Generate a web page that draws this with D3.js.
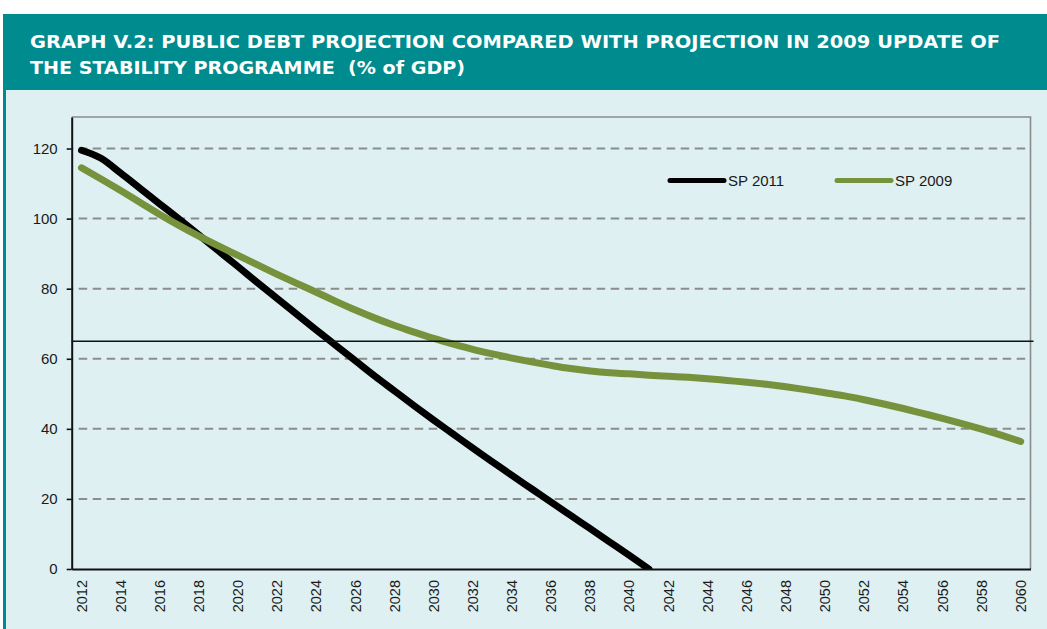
<!DOCTYPE html>
<html>
<head>
<meta charset="utf-8">
<script src="https://cdn.jsdelivr.net/npm/d3@7"></script>
<style>
  html, body { margin: 0; padding: 0; background: #ffffff; }
  svg { display: block; }
  .title { font-family: "DejaVu Sans", "Liberation Sans", sans-serif; font-weight: bold; fill: #ffffff; white-space: pre; }
  .axis text, .legend text { font-family: "Liberation Sans", Arial, sans-serif; fill: #1a1a1a; }
</style>
</head>
<body>
<svg id="chart" width="1047" height="629"></svg>
<script>
// Projection years (category axis)
const years = [
  2012, 2013, 2014, 2015, 2016, 2017, 2018, 2019, 2020, 2021,
  2022, 2023, 2024, 2025, 2026, 2027, 2028, 2029, 2030, 2031,
  2032, 2033, 2034, 2035, 2036, 2037, 2038, 2039, 2040, 2041,
  2042, 2043, 2044, 2045, 2046, 2047, 2048, 2049, 2050, 2051,
  2052, 2053, 2054, 2055, 2056, 2057, 2058, 2059, 2060
];

// Public debt, % of GDP — Stability Programme 2011 (2012–2041)
const sp2011 = [
  119.5, 117.2, 113.0, 108.6, 104.2, 99.8, 95.3, 90.8, 86.3, 81.7,
  77.2, 72.7, 68.2, 63.8, 59.4, 55.0, 50.8, 46.6, 42.5, 38.5,
  34.5, 30.6, 26.7, 22.9, 19.1, 15.3, 11.5, 7.7, 3.9, 0.0
];

// Public debt, % of GDP — Stability Programme 2009 update (2012–2060)
const sp2009 = [
  114.5, 111.3, 108.0, 104.6, 101.2, 98.0, 95.0, 92.2, 89.5, 86.8,
  84.1, 81.5, 79.0, 76.4, 73.9, 71.6, 69.5, 67.6, 65.8, 64.2,
  62.7, 61.4, 60.2, 59.1, 58.1, 57.2, 56.5, 56.0, 55.7, 55.3,
  55.0, 54.7, 54.3, 53.8, 53.3, 52.7, 52.0, 51.2, 50.3, 49.4,
  48.3, 47.1, 45.8, 44.4, 43.0, 41.5, 39.9, 38.2, 36.4
];

const yTicks = [0, 20, 40, 60, 80, 100, 120];
const yMax = 129;
const xTickYears = years.filter(d => d % 2 === 0);
const referenceLevel = 65;
const seriesNames = ["SP 2011", "SP 2009"];
const titleLines = [
  "GRAPH V.2: PUBLIC DEBT PROJECTION COMPARED WITH PROJECTION IN 2009 UPDATE OF",
  "THE STABILITY PROGRAMME  (% of GDP)"
];

const W = 1047, H = 629;
const plot = { left: 71.7, right: 1030.5, top: 117, bottom: 569 };
const colors = { sp2011: "#000000", sp2009: "#76923c", teal: "#008b8e", panel: "#def0f2" };

const svg = d3.select("#chart");

// Panel: teal header band, light body, teal left rule
svg.append("rect").attr("x", 3).attr("y", 14).attr("width", W - 3).attr("height", H - 14).attr("fill", colors.teal);
svg.append("rect").attr("x", 6).attr("y", 90).attr("width", W - 6).attr("height", H - 90).attr("fill", colors.panel);

// Title
const titleLengths = [970, 435];
const titleBaselines = [48, 74];
svg.selectAll("text.title")
  .data(titleLines)
  .join("text")
  .attr("class", "title")
  .attr("x", 30)
  .attr("y", (d, i) => titleBaselines[i])
  .attr("font-size", 18.5)
  .attr("textLength", (d, i) => titleLengths[i])
  .attr("lengthAdjust", "spacingAndGlyphs")
  .text(d => d);

// Scales
const x = d3.scaleBand().domain(years).range([plot.left, plot.right]).padding(0);
const cx = d => x(d) + x.bandwidth() / 2;
const y = d3.scaleLinear().domain([0, yMax]).range([plot.bottom, plot.top]);

// Plot frame (top and right edges)
svg.append("path")
  .attr("d", `M${plot.left},${y(yMax)}H${plot.right}V${y(0)}`)
  .attr("fill", "none")
  .attr("stroke", "#8a8a8a")
  .attr("stroke-width", 1.6);

// Dashed gridlines
svg.append("g")
  .selectAll("line")
  .data(yTicks.filter(d => d > 0))
  .join("line")
  .attr("x1", plot.left + 1)
  .attr("x2", plot.right - 1)
  .attr("y1", d => y(d))
  .attr("y2", d => y(d))
  .attr("stroke", "#8c8c8c")
  .attr("stroke-width", 2)
  .attr("stroke-dasharray", "8.5,5.5")
  .attr("stroke-dashoffset", -6);

// Clip the series to the plot area
svg.append("clipPath").attr("id", "plot-clip")
  .append("rect")
  .attr("x", plot.left).attr("y", plot.top - 10)
  .attr("width", plot.right - plot.left).attr("height", plot.bottom - plot.top + 10);

const line = d3.line()
  .x(d => cx(d.year))
  .y(d => y(d.value))
  .curve(d3.curveMonotoneX);

const series2011 = sp2011.map((v, i) => ({ year: years[i], value: v }));
const series2009 = sp2009.map((v, i) => ({ year: years[i], value: v }));

const lines = svg.append("g").attr("clip-path", "url(#plot-clip)");
lines.append("path")
  .datum(series2011)
  .attr("d", line)
  .attr("fill", "none")
  .attr("stroke", colors.sp2011)
  .attr("stroke-width", 7)
  .attr("stroke-linecap", "round")
  .attr("stroke-linejoin", "round");
lines.append("path")
  .datum(series2009)
  .attr("d", line)
  .attr("fill", "none")
  .attr("stroke", colors.sp2009)
  .attr("stroke-width", 7)
  .attr("stroke-linecap", "round")
  .attr("stroke-linejoin", "round");

// 65% reference line
svg.append("line")
  .attr("x1", plot.left)
  .attr("x2", plot.right + 3)
  .attr("y1", y(referenceLevel))
  .attr("y2", y(referenceLevel))
  .attr("stroke", "#111111")
  .attr("stroke-width", 1.6);

// Y axis
const yAxis = svg.append("g")
  .attr("class", "axis")
  .attr("transform", `translate(${plot.left},0)`)
  .call(d3.axisLeft(y).tickValues(yTicks).tickSize(5).tickSizeOuter(0).tickPadding(9));
yAxis.select(".domain").attr("stroke", "#111111").attr("stroke-width", 2);
yAxis.selectAll(".tick line").attr("stroke", "#111111").attr("stroke-width", 1.6);
yAxis.selectAll(".tick text").attr("font-size", 15);

// X axis with rotated year labels
const xAxis = svg.append("g")
  .attr("class", "axis")
  .attr("transform", `translate(0,${plot.bottom})`)
  .call(d3.axisBottom(x).tickValues(xTickYears).tickSize(0).tickSizeOuter(0).tickFormat(d3.format("d")));
xAxis.select(".domain").attr("stroke", "#111111").attr("stroke-width", 2);
xAxis.selectAll(".tick text")
  .attr("font-size", 14.5)
  .attr("transform", "rotate(-90)")
  .attr("x", -11)
  .attr("y", 0)
  .attr("dy", "0.35em")
  .attr("text-anchor", "end");

// Legend
const legendItems = [
  { name: seriesNames[0], color: colors.sp2011, x0: 670 },
  { name: seriesNames[1], color: colors.sp2009, x0: 837 }
];
const legend = svg.append("g").attr("class", "legend");
const lg = legend.selectAll("g").data(legendItems).join("g")
  .attr("transform", d => `translate(${d.x0},180.5)`);
lg.append("line")
  .attr("x1", 0).attr("x2", 54)
  .attr("y1", 0).attr("y2", 0)
  .attr("stroke", d => d.color)
  .attr("stroke-width", 5)
  .attr("stroke-linecap", "round");
lg.append("text")
  .attr("x", 58)
  .attr("y", 0)
  .attr("dy", "0.35em")
  .attr("font-size", 15)
  .text(d => d.name);
</script>
</body>
</html>
